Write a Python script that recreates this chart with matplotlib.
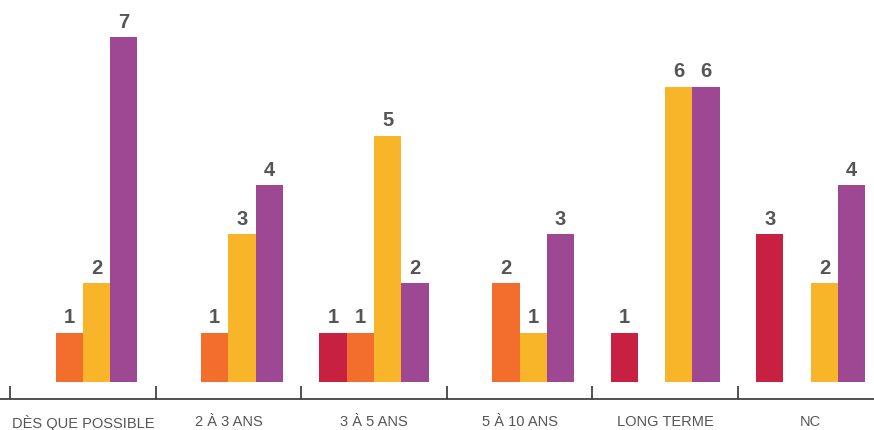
import numpy as np
import matplotlib.pyplot as plt

categories = ["DÈS QUE POSSIBLE", "2 À 3 ANS", "3 À 5 ANS", "5 À 10 ANS", "LONG TERME", "NC"]
serie_rouge = [0, 0, 1, 0, 1, 3]
serie_orange = [1, 1, 1, 2, 0, 0]
serie_jaune = [2, 3, 5, 1, 6, 2]
serie_violet = [7, 4, 2, 3, 6, 4]

series = [serie_rouge, serie_orange, serie_jaune, serie_violet]
colors = ["#C82040", "#F36E2D", "#F8B52A", "#9E4894"]

FONT = ["Liberation Sans", "DejaVu Sans"]
TXT = "#555555"

fig = plt.figure(figsize=(8.74, 4.31), dpi=100)
ax = fig.add_axes([0, (431 - 399.5) / 431, 1, 399.5 / 431])

x = np.arange(len(categories))
w = 0.1875
for i, (vals, c) in enumerate(zip(series, colors)):
    pos = x + (i - 1.5) * w
    ax.bar(pos, vals, width=w, color=c, linewidth=0)
    for p, v in zip(pos, vals):
        if v > 0:
            ax.annotate(str(v), (p, v), xytext=(0, 4.5), textcoords="offset points",
                        ha="center", va="bottom", fontsize=14.5, fontweight="bold",
                        color=TXT, family=FONT)

left = -0.5 - 10 / 145.6
ax.set_xlim(left, left + 874 / 145.6)
ax.set_ylim(-0.341, 382.7 / 49.2)

for s in ["top", "right", "left"]:
    ax.spines[s].set_visible(False)
ax.spines["bottom"].set_color("#333333")
ax.spines["bottom"].set_linewidth(1.2)
ax.set_yticks([])

ax.set_xticks(x)
ax.set_xticklabels(categories, fontsize=10.5, color=TXT, family=FONT)
ax.tick_params(axis="x", which="major", length=0, pad=11)
ax.set_xticks(x - 0.5, minor=True)
ax.tick_params(axis="x", which="minor", direction="in", length=9.5, width=1.2, color="#333333")

fig.savefig("out.png", dpi=100)
